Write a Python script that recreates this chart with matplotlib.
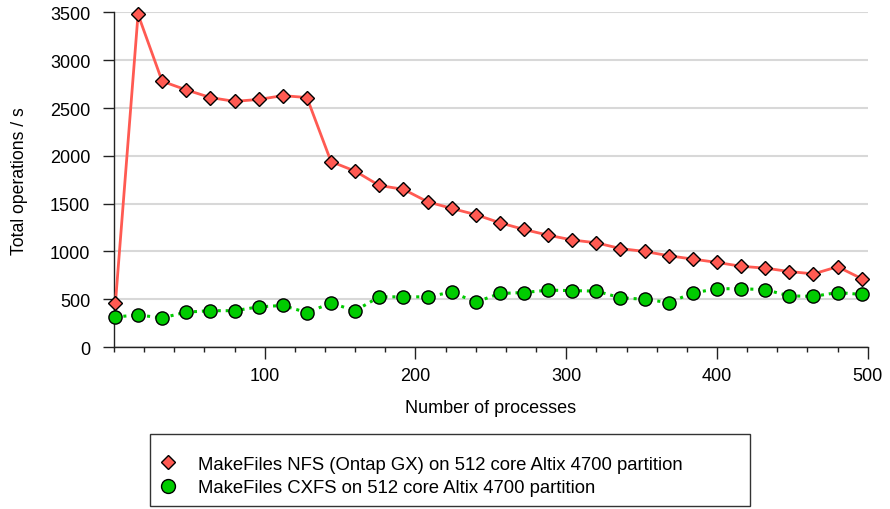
import matplotlib.pyplot as plt
from matplotlib.patches import Rectangle
from matplotlib.ticker import MultipleLocator

plt.rcParams['font.family'] = ['Liberation Sans', 'DejaVu Sans']

# 1 process, then every 16 up to 496
procs = [1] + list(range(16, 497, 16))

nfs_ops = [460, 3480, 2780, 2690, 2610, 2570, 2590, 2630, 2610, 1940,
           1840, 1690, 1650, 1520, 1450, 1385, 1300, 1230, 1170, 1120,
           1090, 1030, 1000, 955, 920, 885, 845, 825, 790, 765, 840, 715]
cxfs_ops = [315, 335, 305, 365, 380, 380, 420, 435, 360, 460,
            380, 525, 525, 525, 575, 470, 560, 570, 595, 590,
            585, 515, 500, 465, 565, 610, 610, 600, 535, 530, 570, 550]

nfs_label = 'MakeFiles NFS (Ontap GX) on 512 core Altix 4700 partition'
cxfs_label = 'MakeFiles CXFS on 512 core Altix 4700 partition'

fig = plt.figure(figsize=(8.9, 5.1), dpi=100)
ax = fig.add_axes([0.128, 0.3176, 0.847, 0.656])

ax.plot(procs, nfs_ops, color='#ff5a52', lw=2, marker='D', ms=6.8,
        mfc='#ff5a52', mec='black', mew=1, clip_on=False, zorder=4,
        label=nfs_label)
ax.plot(procs, cxfs_ops, color='#00cc00', lw=2.2, ls=(0, (1, 1.6)),
        marker='o', ms=9.5, mfc='#00cc00', mec='black', mew=1,
        clip_on=False, zorder=3, label=cxfs_label)

ax.set_xlim(0, 500)
ax.set_ylim(0, 3500)
ax.xaxis.set_minor_locator(MultipleLocator(20))
ax.yaxis.set_major_locator(MultipleLocator(500))
ax.set_xticks([100, 200, 300, 400, 500])

ax.grid(axis='y', color='#d8d8d8', lw=1.5)
ax.set_axisbelow(True)
for s in ['top', 'right']:
    ax.spines[s].set_visible(False)
for s in ['left', 'bottom']:
    ax.spines[s].set_color('#222222')
    ax.spines[s].set_linewidth(1)

ax.tick_params(axis='x', which='major', length=8.5, width=1, pad=6,
               labelsize=13, color='#222222')
ax.tick_params(axis='x', which='minor', length=3.5, width=1, color='#222222')
ax.tick_params(axis='y', length=8, width=1, pad=9, labelsize=13,
               color='#222222')

ax.set_xlabel('Number of processes', fontsize=13, labelpad=11)
ax.set_ylabel('Total operations / s', fontsize=12.7, labelpad=16)

# boxed legend below the plot
fig.patches.append(Rectangle((0.1685, 0.006), 0.674, 0.141,
                             transform=fig.transFigure, fill=False,
                             edgecolor='#333333', lw=1))
handles = [plt.Line2D([], [], ls='none', marker='D', ms=7, mfc='#ff5a52',
                      mec='black', mew=1),
           plt.Line2D([], [], ls='none', marker='o', ms=10, mfc='#00cc00',
                      mec='black', mew=1)]
fig.legend(handles, [nfs_label, cxfs_label], loc='center left',
           bbox_to_anchor=(0.16, 0.0647), frameon=False, fontsize=13.3,
           handlelength=1.0, handletextpad=1.1, labelspacing=0.33,
           borderpad=0.4)

fig.savefig('out.png', dpi=100)
